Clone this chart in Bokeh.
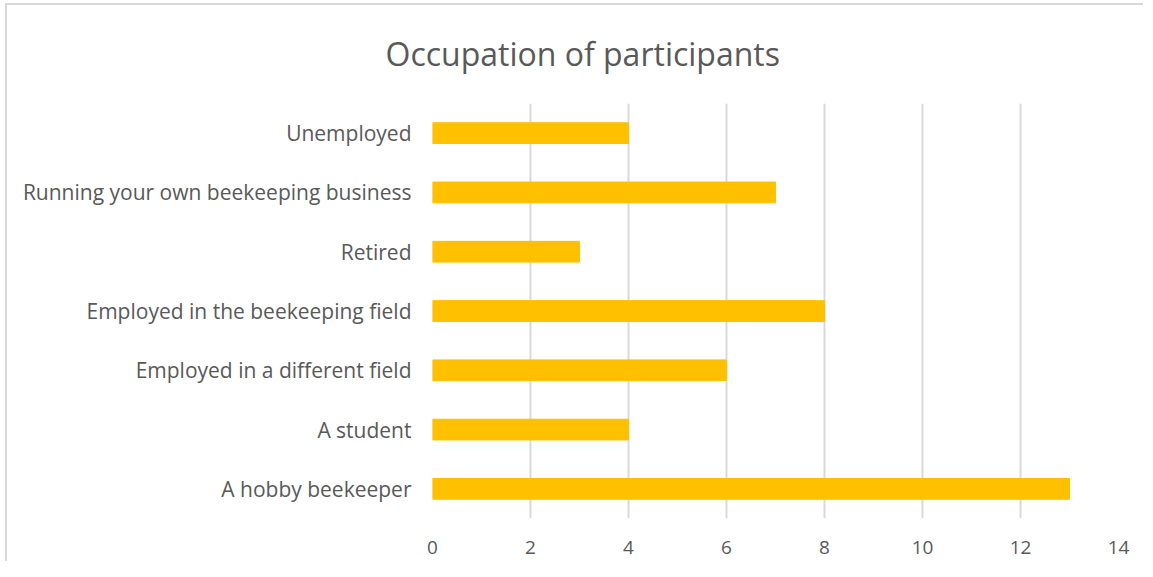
from bokeh.plotting import figure
from bokeh.models import Range1d, FixedTicker
from bokeh.embed import file_html
from bokeh.resources import INLINE

title_text = "Occupation of participants"
categories = ["A hobby beekeeper", "A student", "Employed in a different field",
              "Employed in the beekeeping field", "Retired",
              "Running your own beekeeping business", "Unemployed"]
counts = [13, 4, 6, 8, 3, 7, 4]
x_ticks = [0, 2, 4, 6, 8, 10, 12, 14]

FONT = "Open Sans"
TXT = "#595959"

p = figure(y_range=categories, x_range=Range1d(0, 14),
           frame_width=686, frame_height=415,
           output_backend="svg", toolbar_location=None,
           title=title_text)
p.min_border_left = 425
p.min_border_right = 25
p.min_border_top = 98
p.min_border_bottom = 43

p.hbar(y=categories, right=counts, height=0.35, color="#FFC000")

p.title.align = "left"
p.title.vertical_align = "top"
p.title.offset = -47
p.title.text_font = FONT
p.title.text_font_size = "32px"
p.title.text_font_style = "normal"
p.title.text_color = TXT
p.title.standoff = 53

p.xaxis.ticker = FixedTicker(ticks=x_ticks)
p.xaxis.axis_line_color = None
p.xaxis.major_tick_line_color = None
p.xaxis.minor_tick_line_color = None
p.xaxis.major_label_text_font = FONT
p.xaxis.major_label_text_font_size = "19px"
p.xaxis.major_label_text_color = TXT
p.xaxis.major_label_standoff = 16

p.yaxis.axis_line_color = None
p.yaxis.major_tick_line_color = None
p.yaxis.minor_tick_line_color = None
p.yaxis.major_label_text_font = FONT
p.yaxis.major_label_text_font_size = "21px"
p.yaxis.major_label_text_color = TXT
p.yaxis.major_label_standoff = 15

p.ygrid.grid_line_color = None
p.xgrid.grid_line_color = "#d9d9d9"
p.xgrid.grid_line_width = 2
p.outline_line_color = None
p.styles = {"border-left": "2px solid #d9d9d9", "border-top": "2px solid #d9d9d9",
            "margin-left": "5px", "margin-top": "3px"}

open("out.html", "w").write(file_html(p, INLINE))
